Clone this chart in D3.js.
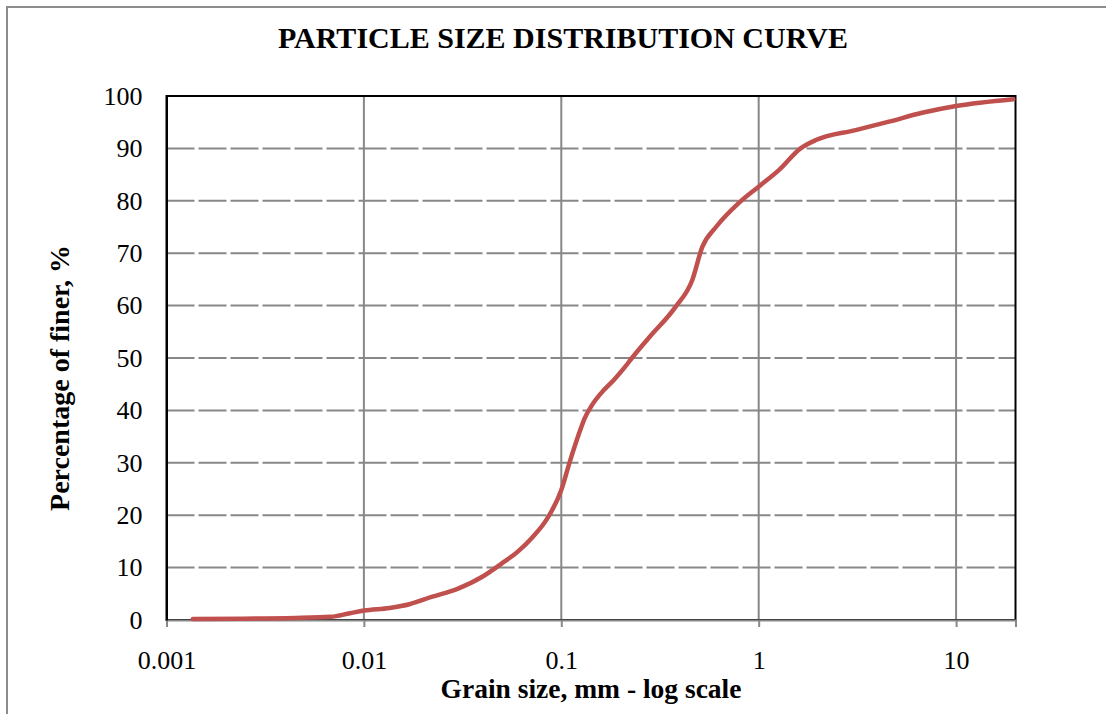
<!DOCTYPE html>
<html><head><meta charset="utf-8">
<script src="https://cdn.jsdelivr.net/npm/d3@7/dist/d3.min.js"></script>
<style>
body{margin:0;background:#fff;}
svg{display:block;font-family:"Liberation Serif","Times New Roman",serif;}
</style></head>
<body><svg id="c" width="1106" height="714"></svg>
<script>
// Data
const grainSize = [0.00136,0.0045,0.0068,0.0085,0.01,0.0135,0.017,0.022,0.03,0.04,0.05,0.06,0.0715,0.084,0.1,0.11,0.122,0.131,0.143,0.16,0.1856,0.2084,0.228,0.28,0.38,0.461,0.518,0.608,0.794,1.0,1.27,1.63,1.95,3.1,4.57,6.73,10,19.5];
const percentFiner = [0.2,0.4,0.6,1.3,1.8,2.3,3.0,4.4,6.0,8.3,10.8,13.0,15.8,19.1,24.8,30,35.2,38.4,41.0,43.4,45.9,48.1,50,54.0,59.8,64.9,71.2,75,79.6,82.7,85.9,90,91.6,93.5,95.1,96.8,98.1,99.4];
const xTicks = [0.001,0.01,0.1,1,10];
const xTickLabels = ["0.001","0.01","0.1","1","10"];
const yTicks = [0,10,20,30,40,50,60,70,80,90,100];
const title = "PARTICLE SIZE DISTRIBUTION CURVE";
const xTitle = "Grain size, mm - log scale";
const yTitle = "Percentage of finer, %";

const svg = d3.select("#c");
const L=166.5, R=1015.5, T=96, B=620;
const x = d3.scaleLog().domain([0.001,20]).range([L,R]);
const y = d3.scaleLinear().domain([0,100]).range([B,T]);

// outer border
svg.append("rect").attr("x",7).attr("y",7).attr("width",1120).attr("height",730)
  .attr("fill","none").attr("stroke","#8c8c8c").attr("stroke-width",2);

// horizontal dashed grid
svg.append("g").selectAll("line").data(yTicks.filter(v=>v>0&&v<100)).join("line")
  .attr("x1",L).attr("x2",R).attr("y1",d=>y(d)).attr("y2",d=>y(d))
  .attr("stroke","#888").attr("stroke-width",2).attr("stroke-dasharray","28,4");
// vertical grid
svg.append("g").selectAll("line").data(xTicks.slice(1)).join("line")
  .attr("x1",d=>x(d)).attr("x2",d=>x(d)).attr("y1",T).attr("y2",B)
  .attr("stroke","#888").attr("stroke-width",2);

// plot border
svg.append("rect").attr("x",L).attr("y",T).attr("width",R-L).attr("height",B-T)
  .attr("fill","none").attr("stroke","#000").attr("stroke-width",2);

// x axis
const xAxis = d3.axisBottom(x).tickValues(xTicks).tickFormat((d,i)=>xTickLabels[i]).tickSize(7).tickPadding(24);
const gx = svg.append("g").attr("transform",`translate(0,${B})`).call(xAxis);
gx.select(".domain").attr("stroke","#888").attr("stroke-width",2);
gx.selectAll(".tick line").attr("stroke","#888").attr("stroke-width",2);
gx.selectAll("text").attr("font-size",26).attr("fill","#000").attr("font-family","Liberation Serif");

// y axis
const yAxis = d3.axisLeft(y).tickValues(yTicks).tickSize(0).tickPadding(24);
const gy = svg.append("g").attr("transform",`translate(${L},0)`).call(yAxis);
gy.select(".domain").attr("stroke","#000").attr("stroke-width",2);
gy.selectAll("text").attr("font-size",26).attr("fill","#000").attr("font-family","Liberation Serif");

// curve
const data = grainSize.map((d,i)=>[d,percentFiner[i]]);
svg.append("path").datum(data)
  .attr("d", d3.line().x(d=>x(d[0])).y(d=>y(d[1])).curve(d3.curveMonotoneX))
  .attr("fill","none").attr("stroke","#C0504D").attr("stroke-width",4.5).attr("stroke-linecap","round");

// titles
svg.append("text").attr("x",563).attr("y",48).attr("text-anchor","middle")
  .attr("font-size",30).attr("font-weight","bold").text(title);
svg.append("text").attr("x",591).attr("y",698).attr("text-anchor","middle")
  .attr("font-size",27.5).attr("font-weight","bold").text(xTitle);
svg.append("text").attr("transform","translate(69,378) rotate(-90)").attr("text-anchor","middle")
  .attr("font-size",28).attr("font-weight","bold").text(yTitle);
</script></body></html>
